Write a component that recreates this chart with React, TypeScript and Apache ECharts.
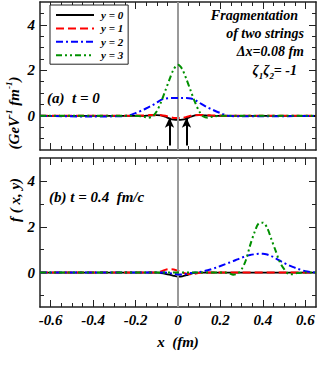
import React, { useEffect, useRef } from 'react';
import * as echarts from 'echarts';

// ---------- data ----------
const seriesNames = ['y = 0', 'y = 1', 'y = 2', 'y = 3'];

// panel (a): t = 0
const xTop = [-0.65, -0.4, -0.3, -0.24, -0.2, -0.16, -0.14, -0.12, -0.1, -0.08, -0.06, -0.04, -0.02, 0, 0.02, 0.04, 0.06, 0.08, 0.1, 0.12, 0.14, 0.16, 0.2, 0.24, 0.3, 0.4, 0.65];
const top0 = [0, 0, 0, 0, 0, 0, 0.01, 0.02, 0.03, 0.02, -0.04, -0.12, -0.17, -0.18, -0.17, -0.12, -0.04, 0.02, 0.03, 0.02, 0.01, 0, 0, 0, 0, 0, 0];
const top1 = [0, 0, 0, 0, 0.01, 0.02, 0.03, 0.04, 0.04, 0.03, 0.0, -0.05, -0.09, -0.1, -0.09, -0.05, 0.0, 0.03, 0.04, 0.04, 0.03, 0.02, 0.01, 0, 0, 0, 0];
const top2 = [0, -0.03, -0.02, 0, 0.12, 0.28, 0.37, 0.47, 0.58, 0.7, 0.76, 0.78, 0.78, 0.78, 0.78, 0.78, 0.76, 0.7, 0.58, 0.47, 0.37, 0.28, 0.12, 0, -0.02, -0.02, 0];
const top3 = [0, 0, 0, 0, 0, -0.04, -0.08, -0.03, 0.2, 0.6, 1.1, 1.6, 2.05, 2.24, 2.05, 1.6, 1.1, 0.6, 0.2, -0.03, -0.08, -0.04, 0, 0, 0, 0, 0];

// panel (b): t = 0.4 fm/c
const xBot = [-0.65, -0.2, -0.1, -0.08, -0.06, -0.04, -0.02, 0, 0.02, 0.04, 0.06, 0.08, 0.1, 0.14, 0.18, 0.22, 0.24, 0.26, 0.28, 0.3, 0.32, 0.34, 0.36, 0.38, 0.4, 0.42, 0.44, 0.46, 0.48, 0.5, 0.52, 0.54, 0.56, 0.6, 0.65];
const bot0 = [0, 0, 0, -0.02, -0.05, -0.09, -0.14, -0.17, -0.16, -0.11, -0.05, -0.01, 0, 0, 0, 0, 0, 0, 0, 0, 0, 0, 0, 0, 0, 0, 0, 0, 0, 0, 0, 0, 0, 0, 0];
const bot1 = [0, 0, 0.01, 0.05, 0.12, 0.15, 0.14, 0.08, 0, -0.05, -0.07, -0.05, -0.01, 0, 0, 0, 0, 0, 0, 0, 0, 0, 0, 0, 0, 0.01, 0.01, 0.01, 0.01, 0.01, 0, 0, 0, 0, 0];
const bot2 = [0, 0, 0, 0, 0, -0.02, -0.05, -0.08, -0.08, -0.06, -0.02, 0, 0.02, 0.1, 0.22, 0.36, 0.43, 0.5, 0.58, 0.65, 0.72, 0.77, 0.8, 0.82, 0.82, 0.79, 0.72, 0.62, 0.52, 0.42, 0.33, 0.25, 0.18, 0.06, 0];
const bot3 = [0, 0, 0, 0, 0, 0, 0, 0, 0, 0, 0, 0, 0, 0, 0, 0, -0.03, -0.09, -0.05, 0.15, 0.55, 1.2, 1.75, 2.15, 2.18, 1.95, 1.45, 0.95, 0.45, 0.15, -0.05, -0.07, -0.02, 0, 0];

// ticks
const xMajorTicks = [-0.6, -0.4, -0.2, 0, 0.2, 0.4, 0.6];
const xMinorTicks = [-0.55, -0.5, -0.45, -0.35, -0.3, -0.25, -0.15, -0.1, -0.05, 0.05, 0.1, 0.15, 0.25, 0.3, 0.35, 0.45, 0.5, 0.55];
const yMajorTicks = [0, 2, 4];
const yMinorTicksTop = [-1, -0.5, 0.5, 1, 1.5, 2.5, 3, 3.5, 4.5];
const yMinorTicksBot = [-1, 1, 3];

// arrows marking the two strings at t = 0
const arrowX = [-0.04, 0.04];
const arrowFrom = -1.3;
const arrowTo = -0.08;

// ---------- style ----------
const FONT = '"Liberation Serif", "Times New Roman", serif';
const colors = ['#000000', '#ff0000', '#0000ff', '#009000'];
const dashes: any[] = ['solid', [8, 4], [7, 3, 2, 3], [6, 3, 2, 3, 2, 3]];
const AXC = '#222';

function xAx(grid: number, pos: string, ticks: number[], len: number, line: boolean, labels: boolean) {
  return {
    type: 'value', gridIndex: grid, position: pos, min: -0.65, max: 0.65,
    splitLine: { show: false },
    axisLine: { show: line, onZero: false, lineStyle: { color: AXC, width: 1.5 } },
    axisTick: { show: true, inside: true, length: len, customValues: ticks, lineStyle: { color: AXC, width: 1 } },
    axisLabel: {
      show: labels, customValues: ticks, margin: 5,
      formatter: (v: number) => (v === 0 ? '0' : v.toFixed(1)),
      fontFamily: FONT, fontStyle: 'italic', fontWeight: 'bold', fontSize: 15, color: '#000',
    },
  };
}
function yAx(grid: number, pos: string, ticks: number[], len: number, line: boolean, labels: boolean) {
  return {
    type: 'value', gridIndex: grid, position: pos, min: -1.5, max: 5,
    splitLine: { show: false },
    axisLine: { show: line, onZero: false, lineStyle: { color: AXC, width: 1.5 } },
    axisTick: { show: true, inside: true, length: len, customValues: ticks, lineStyle: { color: AXC, width: 1 } },
    axisLabel: {
      show: labels, customValues: ticks, margin: 5,
      formatter: (v: number) => String(v),
      fontFamily: FONT, fontStyle: 'italic', fontWeight: 'bold', fontSize: 15, color: '#000',
    },
  };
}

function textEl(x: number, y: number, text: string, size: number, align: string, extra: any = {}) {
  return {
    type: 'text', x, y, ...extra,
    style: {
      text, fill: '#000', fontFamily: FONT, fontStyle: 'italic', fontWeight: 'bold', fontSize: size,
      align, verticalAlign: 'middle', ...(extra.style || {}),
    },
  };
}

export default function App() {
  const ref = useRef<HTMLDivElement>(null);
  useEffect(() => {
    document.body.style.margin = '0';
    const chart = echarts.init(ref.current!, null, { renderer: 'svg' });
    const topData = [top0, top1, top2, top3];
    const botData = [bot0, bot1, bot2, bot3];
    const series: any[] = [];
    [0, 1].forEach((p) => {
      const xs = p === 0 ? xTop : xBot;
      const ds = p === 0 ? topData : botData;
      ds.forEach((vals, k) => {
        const s: any = {
          type: 'line', name: seriesNames[k], xAxisIndex: p * 4, yAxisIndex: p * 4,
          data: xs.map((x, i) => [x, vals[i]]),
          symbol: 'none', showSymbol: false, smooth: 0.3,
          lineStyle: { color: colors[k], width: k === 0 ? 1.8 : 2, type: dashes[k] },
          itemStyle: { color: colors[k] },
          z: 3 + k,
        };
        if (k === 0) {
          const ml: any[] = [{ xAxis: 0, lineStyle: { color: '#999', width: 2, type: 'solid' } }];
          if (p === 0) {
            arrowX.forEach((ax) => {
              ml.push([
                { coord: [ax, arrowFrom], symbol: 'none' },
                { coord: [ax, arrowTo], symbol: 'arrow', symbolSize: [7, 10] },
              ]);
            });
          }
          s.markLine = {
            silent: true, symbol: 'none', animation: false, label: { show: false },
            lineStyle: { color: '#000', width: 2, type: 'solid' },
            emphasis: { disabled: true },
            data: ml,
          };
        }
        series.push(s);
      });
    });

    const option: any = {
      animation: false,
      grid: [
        { left: 40, top: 2, width: 276, height: 148, outerBoundsMode: 'none' },
        { left: 40, top: 158, width: 276, height: 149, outerBoundsMode: 'none' },
      ],
      xAxis: [
        xAx(0, 'bottom', xMajorTicks, 7, true, false),
        xAx(0, 'bottom', xMinorTicks, 4, false, false),
        xAx(0, 'top', xMajorTicks, 7, true, false),
        xAx(0, 'top', xMinorTicks, 4, false, false),
        { ...xAx(1, 'bottom', xMajorTicks, 7, true, true), name: 'x  (fm)', nameLocation: 'middle', nameGap: 27,
          nameTextStyle: { fontFamily: FONT, fontStyle: 'italic', fontWeight: 'bold', fontSize: 15, color: '#000' } },
        xAx(1, 'bottom', xMinorTicks, 4, false, false),
        xAx(1, 'top', xMajorTicks, 7, true, false),
        xAx(1, 'top', xMinorTicks, 4, false, false),
      ],
      yAxis: [
        yAx(0, 'left', yMajorTicks, 7, true, true),
        yAx(0, 'left', yMinorTicksTop, 4, false, false),
        yAx(0, 'right', yMajorTicks, 7, true, false),
        yAx(0, 'right', yMinorTicksTop, 4, false, false),
        yAx(1, 'left', yMajorTicks, 7, true, true),
        yAx(1, 'left', yMinorTicksBot, 4, false, false),
        yAx(1, 'right', yMajorTicks, 7, true, false),
        yAx(1, 'right', yMinorTicksBot, 4, false, false),
      ],
      legend: {
        orient: 'vertical', left: 50, top: 5, padding: [4, 5, 3, 5],
        itemWidth: 38, itemHeight: 12, itemGap: 1.4,
        borderColor: AXC, borderWidth: 1, backgroundColor: '#fff',
        selectedMode: false, data: seriesNames,
        itemStyle: { color: 'rgba(0,0,0,0)', borderColor: 'rgba(0,0,0,0)', borderWidth: 0, opacity: 0 },
        textStyle: { fontFamily: FONT, fontStyle: 'italic', fontWeight: 'bold', fontSize: 11, color: '#000', lineHeight: 12, padding: [0, 0, 0, 2] },
      },
      graphic: [
        textEl(298, 15, 'Fragmentation', 14, 'right'),
        textEl(304, 33, 'of two strings', 14, 'right'),
        textEl(304, 51, 'Δx=0.08 fm', 14, 'right'),
        textEl(297, 70, 'ζ{s|1}ζ{s|2}= -1', 14, 'right', {
          style: { lineHeight: 20, rich: { s: { fontFamily: FONT, fontStyle: 'italic', fontWeight: 'bold', fontSize: 9, lineHeight: 10, verticalAlign: 'bottom' } } },
        }),
        textEl(47, 98, '(a)  t = 0', 15, 'left'),
        textEl(49, 197, '(b) t = 0.4  fm/c', 15, 'left'),
        textEl(14, 113, '(GeV{s|-1} fm{s|-1})', 15, 'center', {
          rotation: Math.PI / 2,
          style: { lineHeight: 20, rich: { s: { fontFamily: FONT, fontStyle: 'italic', fontWeight: 'bold', fontSize: 9, lineHeight: 10, verticalAlign: 'top' } } },
        }),
        textEl(15, 200, 'f ( x, y)', 15, 'center', { rotation: Math.PI / 2 }),
      ],
      series,
    };
    chart.setOption(option);
    return () => chart.dispose();
  }, []);
  return <div ref={ref} style={{ position: 'absolute', left: 0, top: 0, width: 318, height: 389 }} />;
}
